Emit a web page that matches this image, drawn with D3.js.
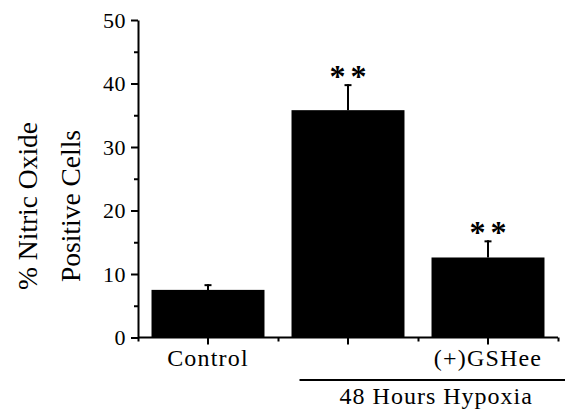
<!DOCTYPE html>
<html>
<head>
<meta charset="utf-8">
<script src="https://cdn.jsdelivr.net/npm/d3@7"></script>
<style>
  body { margin: 0; background: #fff; }
  .axis path, .axis line { stroke: #000; stroke-width: 2; }
</style>
</head>
<body>
<div id="chart"></div>
<script>
// data
var categories = ["Control", "Hypoxia", "(+)GSHee"];
var tickLabels = ["Control", "", "(+)GSHee"];
var means = [7.5, 35.8, 12.6];
var errTops = [8.4, 39.9, 15.3];
var stars = ["", "**", "**"];
var yTicks = [0, 10, 20, 30, 40, 50];
var yMinorTicks = [5, 15, 25, 35, 45];
var groupLabel = "48 Hours Hypoxia";
var yLabelLines = ["% Nitric Oxide", "Positive Cells"];

var W = 565, H = 417;
var plotLeft = 138, plotRight = 558, plotTop = 20, plotBottom = 337.5;
var serif = "Liberation Serif";

var svg = d3.select("#chart")
    .append("svg")
    .attr("width", W)
    .attr("height", H)
    .attr("font-family", serif);

// ---------------------------//
//       AXIS  AND SCALE      //
// ---------------------------//

var x = d3.scaleBand()
    .domain(categories)
    .range([plotLeft, plotRight])
    .paddingInner(0.193)
    .paddingOuter(0.0965);

// boundaries between the categories, for the small ticks
var xb = d3.scaleLinear()
    .domain([0, categories.length])
    .range([plotLeft, plotRight]);

var y = d3.scaleLinear()
    .domain([0, 50])
    .range([plotBottom, plotTop]);

// ---------------------------//
//       BARS                 //
// ---------------------------//

svg.append("g")
    .selectAll("rect")
    .data(categories)
    .enter()
    .append("rect")
    .attr("x", function(d) { return x(d); })
    .attr("y", function(d, i) { return y(means[i]); })
    .attr("width", x.bandwidth())
    .attr("height", function(d, i) { return y(0) - y(means[i]); })
    .style("fill", "#000");

// error bars (upper half only)
var err = svg.append("g")
    .attr("stroke", "#000")
    .attr("stroke-width", 2);

err.selectAll("line.v")
    .data(categories)
    .enter()
    .append("line")
    .attr("class", "v")
    .attr("x1", function(d) { return x(d) + x.bandwidth() / 2; })
    .attr("x2", function(d) { return x(d) + x.bandwidth() / 2; })
    .attr("y1", function(d, i) { return y(means[i]); })
    .attr("y2", function(d, i) { return y(errTops[i]); });

err.selectAll("line.cap")
    .data(categories)
    .enter()
    .append("line")
    .attr("class", "cap")
    .attr("x1", function(d) { return x(d) + x.bandwidth() / 2 - 3.5; })
    .attr("x2", function(d) { return x(d) + x.bandwidth() / 2 + 3.5; })
    .attr("y1", function(d, i) { return y(errTops[i]) + 1; })
    .attr("y2", function(d, i) { return y(errTops[i]) + 1; });

// significance stars
svg.append("g")
    .selectAll("text")
    .data(categories)
    .enter()
    .append("text")
    .attr("x", function(d) { return x(d) + x.bandwidth() / 2 + 2.5; })
    .attr("y", function(d, i) { return y(errTops[i]) + 3; })
    .attr("text-anchor", "middle")
    .style("font-family", serif)
    .style("font-size", "32px")
    .style("font-weight", "bold")
    .style("letter-spacing", "5px")
    .text(function(d, i) { return stars[i]; });

// ---------------------------//
//       AXES                 //
// ---------------------------//

var yAxis = svg.append("g")
    .attr("class", "axis")
    .attr("transform", "translate(" + plotLeft + ",0)")
    .call(d3.axisLeft(y).tickValues(yTicks).tickSize(7).tickSizeOuter(0).tickPadding(5));

yAxis.selectAll("text")
    .style("font-family", serif)
    .style("font-size", "22px")
    .style("letter-spacing", "0.5px");

svg.append("g")
    .attr("class", "axis")
    .attr("transform", "translate(" + plotLeft + ",0)")
    .call(d3.axisLeft(y).tickValues(yMinorTicks).tickSize(4).tickFormat(""))
    .select(".domain").remove();

var xAxis = svg.append("g")
    .attr("class", "axis")
    .attr("transform", "translate(0," + plotBottom + ")")
    .call(d3.axisBottom(x).tickSize(7).tickSizeOuter(0)
        .tickFormat(function(d, i) { return tickLabels[i]; }));

xAxis.select(".domain").attr("d", "M" + plotLeft + ",0H" + plotRight);

xAxis.selectAll("text")
    .attr("y", 28)
    .attr("dy", null)
    .style("font-family", serif)
    .style("font-size", "24px")
    .style("letter-spacing", "1.2px");

svg.append("g")
    .attr("class", "axis")
    .attr("transform", "translate(0," + plotBottom + ")")
    .call(d3.axisBottom(xb).tickValues(d3.range(categories.length + 1)).tickSize(4).tickFormat(""))
    .select(".domain").remove();

// group bracket under the two hypoxia bars
svg.append("line")
    .attr("x1", x(categories[1]) + 8)
    .attr("x2", W)
    .attr("y1", 380)
    .attr("y2", 380)
    .attr("stroke", "#000")
    .attr("stroke-width", 2);

svg.append("text")
    .attr("x", (x(categories[1]) + 8 + W) / 2 + 4)
    .attr("y", 404)
    .attr("text-anchor", "middle")
    .style("font-family", serif)
    .style("font-size", "24px")
    .style("letter-spacing", "1px")
    .text(groupLabel);

// Y axis label, two lines
svg.append("text")
    .attr("transform", "translate(37,206) rotate(-90)")
    .attr("text-anchor", "middle")
    .style("font-family", serif)
    .style("font-size", "27.5px")
    .text(yLabelLines[0]);

svg.append("text")
    .attr("transform", "translate(80,206) rotate(-90)")
    .attr("text-anchor", "middle")
    .style("font-family", serif)
    .style("font-size", "27.5px")
    .text(yLabelLines[1]);
</script>
</body>
</html>
